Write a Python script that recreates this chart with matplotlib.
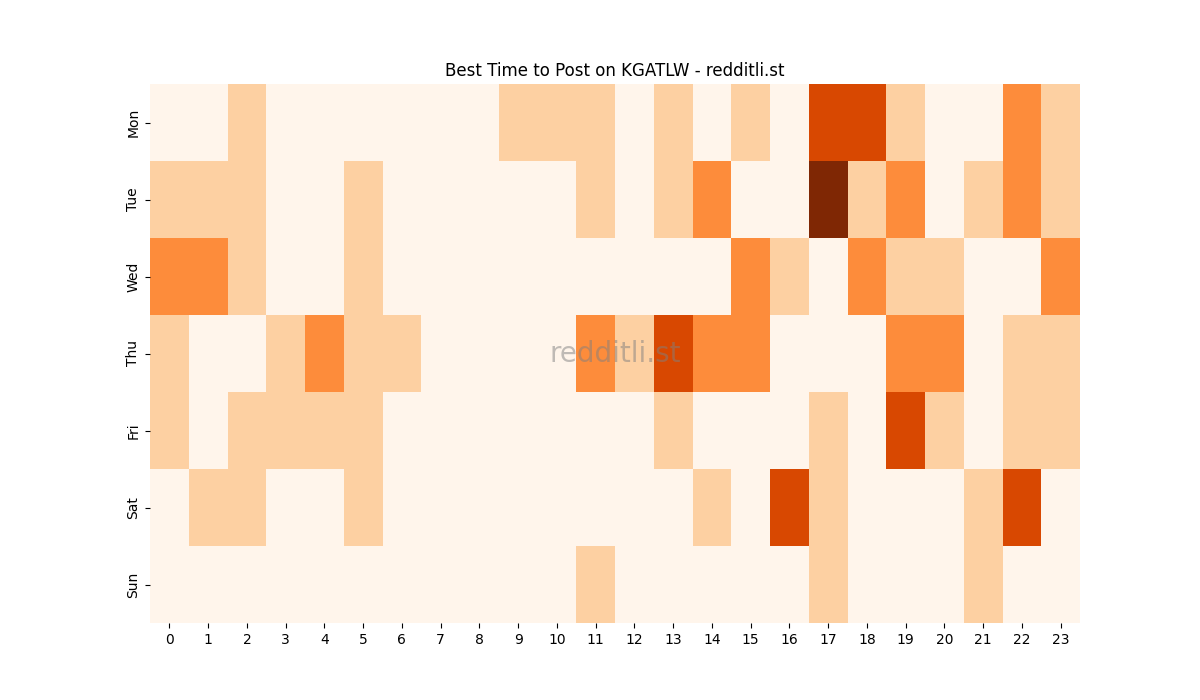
import numpy as np
import matplotlib
matplotlib.use("Agg")
import matplotlib.pyplot as plt

days = ["Mon", "Tue", "Wed", "Thu", "Fri", "Sat", "Sun"]
hours = list(range(24))

mon = [0, 0, 1, 0, 0, 0, 0, 0, 0, 1, 1, 1, 0, 1, 0, 1, 0, 3, 3, 1, 0, 0, 2, 1]
tue = [1, 1, 1, 0, 0, 1, 0, 0, 0, 0, 0, 1, 0, 1, 2, 0, 0, 4, 1, 2, 0, 1, 2, 1]
wed = [2, 2, 1, 0, 0, 1, 0, 0, 0, 0, 0, 0, 0, 0, 0, 2, 1, 0, 2, 1, 1, 0, 0, 2]
thu = [1, 0, 0, 1, 2, 1, 1, 0, 0, 0, 0, 2, 1, 3, 2, 2, 0, 0, 0, 2, 2, 0, 1, 1]
fri = [1, 0, 1, 1, 1, 1, 0, 0, 0, 0, 0, 0, 0, 1, 0, 0, 0, 1, 0, 3, 1, 0, 1, 1]
sat = [0, 1, 1, 0, 0, 1, 0, 0, 0, 0, 0, 0, 0, 0, 1, 0, 3, 1, 0, 0, 0, 1, 3, 0]
sun = [0, 0, 0, 0, 0, 0, 0, 0, 0, 0, 0, 1, 0, 0, 0, 0, 0, 1, 0, 0, 0, 1, 0, 0]

data = np.array([mon, tue, wed, thu, fri, sat, sun])

fig = plt.figure(figsize=(12, 7), dpi=100)
ax = fig.add_subplot(111)
ax.pcolormesh(data, cmap="Oranges", vmin=0, vmax=4)
ax.set_xlim(0, len(hours))
ax.set_ylim(len(days), 0)

ax.set_xticks(np.arange(len(hours)) + 0.5)
ax.set_xticklabels(hours)
ax.set_yticks(np.arange(len(days)) + 0.5)
ax.set_yticklabels(days, rotation=90, va="center")
for s in ax.spines.values():
    s.set_visible(False)

ax.set_title("Best Time to Post on KGATLW - redditli.st")
ax.text(0.5, 0.5, "redditli.st", transform=ax.transAxes, ha="center", va="center",
        fontsize=20, color="gray", alpha=0.5)

plt.savefig("out.png")
